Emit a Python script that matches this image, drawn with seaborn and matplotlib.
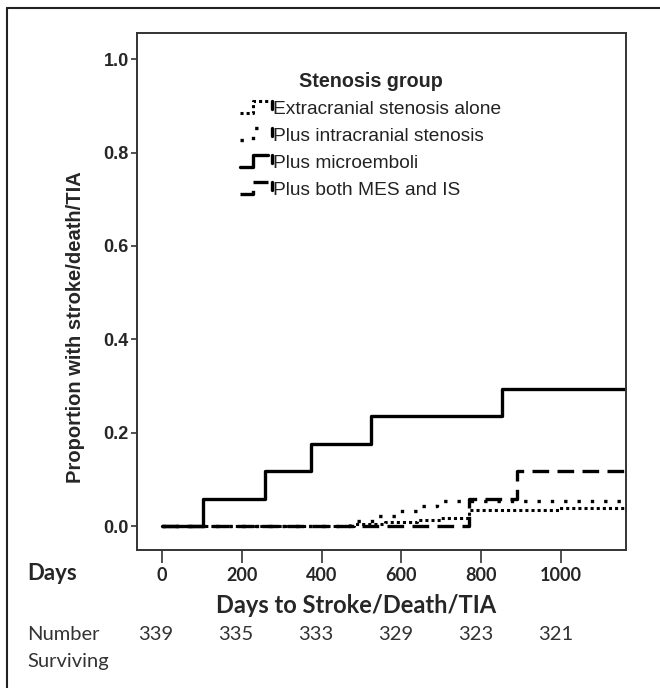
import numpy as np
import pandas as pd
import seaborn as sns
import matplotlib.pyplot as plt
from matplotlib.lines import Line2D
from matplotlib.legend_handler import HandlerBase
import matplotlib.transforms as mtransforms

# Kaplan-Meier type step curves (days, cumulative proportion)
grupos = ['Extracranial stenosis alone', 'Plus intracranial stenosis',
          'Plus microemboli', 'Plus both MES and IS']

dias_extra = [0, 480, 560, 640, 700, 770, 995, 1160]
prop_extra = [0.0, 0.004, 0.008, 0.013, 0.018, 0.034, 0.040, 0.040]

dias_intra = [0, 470, 530, 590, 640, 690, 1160]
prop_intra = [0.0, 0.011, 0.022, 0.033, 0.044, 0.054, 0.054]

dias_mes = [0, 104, 258, 373, 523, 852, 1160]
prop_mes = [0.0, 0.059, 0.118, 0.176, 0.235, 0.294, 0.294]

dias_ambos = [0, 768, 890, 1160]
prop_ambos = [0.0, 0.059, 0.118, 0.118]

dias_ticks = [0, 200, 400, 600, 800, 1000]
n_vivos = ['339', '335', '333', '329', '323', '321']

estilos = [(0, (1, 1)), (0, (1, 3)), '-', (0, (5, 2.5))]
larguras = [2.2, 2.4, 2.4, 2.4]

sns.set_style('white')
plt.rcParams['font.family'] = ['Liberation Sans', 'DejaVu Sans']
fonte_b = ['Lato', 'DejaVu Sans']

fig = plt.figure(figsize=(6.6, 6.88), dpi=100)
ax = fig.add_axes([137 / 660, 1 - 550 / 688, 489 / 660, 517 / 688])

series = [(dias_extra, prop_extra), (dias_intra, prop_intra),
          (dias_mes, prop_mes), (dias_ambos, prop_ambos)]
for (d, p), ls, lw in zip(series, estilos, larguras):
    df = pd.DataFrame({'dias': d, 'prop': p})
    sns.lineplot(data=df, x='dias', y='prop', drawstyle='steps-post', color='black',
                 linestyle=ls, linewidth=lw, ax=ax, legend=False, sort=False)

ax.set_xlim(-62, 1162)
ax.set_ylim(-0.051, 1.056)
ax.set_yticks([0.0, 0.2, 0.4, 0.6, 0.8, 1.0])
ax.set_yticklabels(['0.0', '0.2', '0.4', '0.6', '0.8', '1.0'], fontweight='bold', fontsize=13)
ax.set_xticks(dias_ticks)
ax.set_xticklabels([str(v) for v in dias_ticks], family=fonte_b,
                   fontweight='bold', fontsize=13)
ax.tick_params(axis='y', direction='out', length=4, width=1.2, color='#333333', pad=2, left=True)
ax.tick_params(axis='x', direction='out', length=9, width=1.2, color='#333333', pad=3, bottom=True)
for s in ax.spines.values():
    s.set_color('#333333')
    s.set_linewidth(1.4)

ax.set_ylabel('Proportion with stroke/death/TIA', fontsize=14.5, fontweight='bold')
ax.yaxis.set_label_coords(-0.107, 0.431)
ax.set_xlabel('Days to Stroke/Death/TIA', family=fonte_b, fontsize=17, fontweight='bold')
ax.xaxis.set_label_coords(0.448, -0.085)


# legend handles drawn as small steps, as in the original
class StepHandler(HandlerBase):
    def __init__(self, ls, lw):
        super().__init__()
        self.ls = ls
        self.lw = lw

    def create_artists(self, legend, orig, xdescent, ydescent, width, height, fontsize, trans):
        x0, y0 = -xdescent, -ydescent
        xs = [x0, x0 + 0.4 * width, x0 + 0.4 * width, x0 + 0.85 * width]
        ys = [y0 + 0.1 * height, y0 + 0.1 * height, y0 + 0.95 * height, y0 + 0.95 * height]
        l1 = Line2D(xs, ys, color='black', linestyle=self.ls, linewidth=self.lw, transform=trans)
        l2 = Line2D([x0 + width, x0 + width], [y0 + 0.95 * height, y0 + 0.4 * height],
                    color='black', linewidth=2.4, transform=trans)
        return [l1, l2]


handles = [Line2D([], [], color='black', linestyle=ls, linewidth=lw)
           for ls, lw in zip(estilos, larguras)]
mapa = {h: StepHandler(ls, lw) for h, ls, lw in zip(handles, estilos, larguras)}
leg = ax.legend(handles, grupos, title='Stenosis group', loc='upper left',
                bbox_to_anchor=(0.175, 0.958), frameon=False, fontsize=13.8,
                handlelength=1.7, handletextpad=0.05, labelspacing=0.5,
                handler_map=mapa)
leg.get_title().set_fontweight('bold')
leg.get_title().set_fontsize(14.2)
for t in leg.get_texts():
    t.set_color('#222222')

# rows under the axis
fig.text(27 / 660, 1 - 573 / 688, 'Days', family=fonte_b, fontweight='bold',
         fontsize=16, ha='left', va='center')
fig.text(27 / 660, 1 - 634 / 688, 'Number', family=fonte_b, fontsize=14.5,
         color='#333333', ha='left', va='center')
fig.text(27 / 660, 1 - 662 / 688, 'Surviving', family=fonte_b, fontsize=14.5,
         color='#333333', ha='left', va='center')
trans = mtransforms.blended_transform_factory(ax.transData, fig.transFigure)
off = mtransforms.ScaledTranslation(-6 / 100, 0, fig.dpi_scale_trans)
for d, n in zip(dias_ticks, n_vivos):
    ax.text(d, 1 - 634 / 688, n, transform=trans + off, family=fonte_b,
            fontsize=14.5, color='#333333', ha='center', va='center')

# outer frame (left and top edges visible)
fig.add_artist(Line2D([7 / 660, 7 / 660], [0, 1 - 8 / 688], color='#222222', linewidth=1.5))
fig.add_artist(Line2D([7 / 660, 1], [1 - 8 / 688, 1 - 8 / 688], color='#222222', linewidth=1.5))

fig.savefig('out.png', dpi=100)
